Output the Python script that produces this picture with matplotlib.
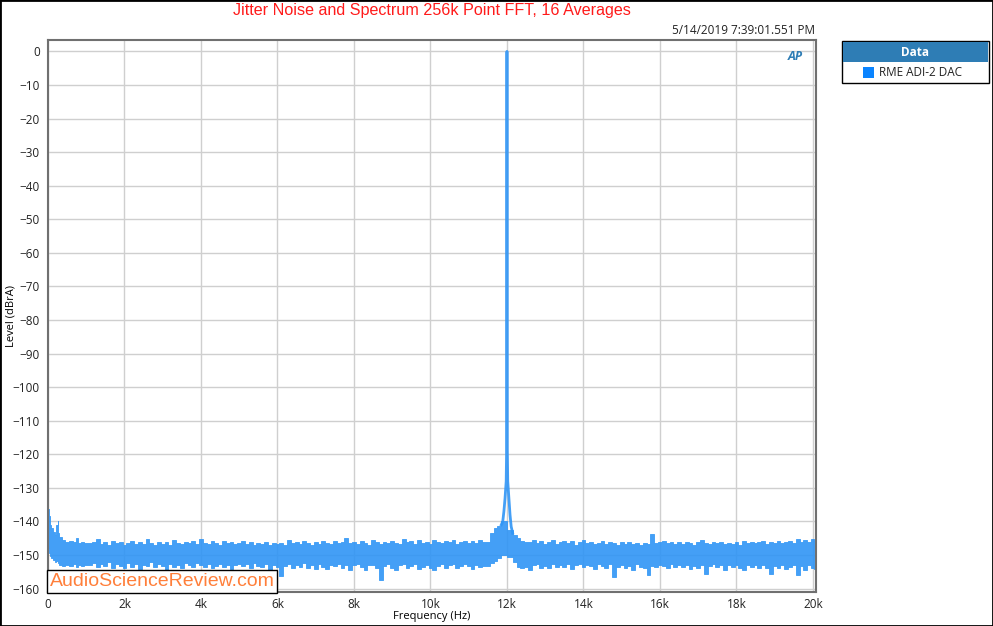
import numpy as np
import matplotlib.pyplot as plt
from matplotlib.patches import Rectangle

plt.rcParams['font.family'] = ['Open Sans', 'DejaVu Sans']

# noise band envelope (Hz, dBrA)
freq_lo = [0, 20, 40, 60, 100, 150, 200, 240, 260, 280, 320, 400, 500, 600, 700, 750, 800, 900, 1000]
upper_lo = [-136.0, -136.3, -138.5, -141.0, -142.0, -143.0, -144.0, -141.0, -140.0, -143.5, -144.5,
            -145.5, -146.0, -145.8, -146.2, -144.9, -146.3, -146.0, -146.4]
lower_lo = [-147.5, -148.0, -149.5, -150.2, -151.0, -151.5, -152.0, -151.8, -152.3, -152.5, -153.0,
            -153.2, -153.0, -153.4, -152.8, -153.5, -153.0, -153.3, -152.9]

freq_mid = list(range(1100, 11500, 100))
upper_mid = [-146.4, -146.0, -145.3, -146.7, -146.2, -146.9, -145.8, -146.5, -146.1, -147.0,
             -146.3, -145.7, -146.6, -146.0, -146.8, -145.2, -146.5, -146.9, -146.1, -146.6,
             -146.2, -147.0, -145.6, -146.4, -146.8, -146.0, -146.5, -145.9, -146.7, -145.1,
             -146.4, -146.8, -145.7, -146.3, -146.9, -145.9, -146.5, -146.1, -146.8, -146.3,
             -145.7, -146.6, -146.2, -147.0, -146.4, -146.8, -146.0, -147.1, -146.5, -146.8,
             -146.3, -146.9, -145.4, -146.5, -146.1, -146.8, -145.7, -146.4, -146.9, -146.2,
             -146.7, -145.8, -146.3, -146.6, -145.9, -146.5, -146.0, -144.9, -146.4, -146.1,
             -146.6, -145.7, -146.3, -146.9, -145.5, -146.2, -146.7, -146.0, -146.5, -145.8,
             -146.4, -146.8, -145.3, -146.2, -145.9, -146.6, -145.6, -146.3, -146.0, -146.7,
             -145.4, -146.1, -146.5, -145.7, -146.2, -145.5, -146.6, -146.0, -145.8, -146.4,
             -145.9, -146.3, -145.5, -146.0]
lower_mid = [-153.0, -152.3, -153.6, -152.8, -153.3, -152.1, -153.8, -152.6, -153.2, -153.9,
             -152.4, -153.5, -152.7, -154.1, -152.9, -153.4, -152.2, -153.7, -152.8, -153.3,
             -154.3, -152.6, -153.5, -152.9, -153.8, -152.4, -153.1, -153.7, -152.5, -152.9,
             -153.6, -152.7, -154.0, -153.2, -152.6, -153.5, -152.9, -154.2, -153.0, -152.7,
             -153.4, -152.8, -153.9, -152.5, -153.2, -153.7, -152.8, -154.5, -153.1, -153.6,
             -156.3, -153.3, -152.7, -153.9, -152.9, -153.5, -152.4, -153.8, -153.0, -154.1,
             -152.8, -153.6, -154.2, -152.9, -153.4, -152.6, -153.9, -153.1, -154.4, -153.0,
             -152.8, -153.7, -154.3, -153.1, -152.9, -154.0, -157.4, -153.3, -152.7, -153.8,
             -154.3, -153.0, -152.6, -153.9, -153.2, -152.8, -154.1, -153.5, -152.9, -153.9,
             -154.5, -153.2, -152.6, -153.8, -153.0, -152.8, -154.0, -153.4, -152.7, -153.3,
             -154.2, -153.1, -153.7, -153.4]

freq_pk = [11500, 11600, 11700, 11800, 11900, 12100, 12200, 12300, 12400, 12500]
upper_pk = [-146.0, -143.5, -141.8, -141.2, -140.0, -142.5, -144.0, -145.0, -145.8, -146.2]
lower_pk = [-153.2, -152.5, -151.8, -151.0, -150.0, -150.5, -152.0, -153.6, -154.0, -153.5]

freq_hi = list(range(12600, 20001, 100)) + [20060]
upper_hi = [-146.0, -145.6, -146.4, -145.8, -146.7, -146.1, -145.5, -146.6, -146.2, -145.9,
            -146.5, -145.8, -146.9, -146.2, -145.6, -146.4, -146.0, -146.7, -146.3, -145.9,
            -146.7, -146.1, -146.5, -146.9, -146.2, -146.6, -146.0, -146.8, -146.4, -146.9,
            -146.3, -146.7, -143.8, -146.5, -146.1, -145.7, -146.4, -146.0, -146.6, -146.2,
            -146.8, -146.0, -146.5, -146.9, -146.2, -145.4, -146.3, -146.7, -146.1, -146.5,
            -146.0, -146.8, -146.3, -146.6, -146.1, -146.9, -145.8, -146.4, -146.0, -146.5,
            -146.2, -145.9, -146.6, -146.1, -146.5, -145.7, -146.3, -146.0, -145.8, -146.4,
            -145.3, -146.0, -145.6, -146.2, -145.3, -145.8]
lower_hi = [-154.3, -153.1, -152.7, -153.8, -153.2, -154.0, -152.6, -153.5, -152.9, -153.7,
            -152.8, -154.2, -153.1, -152.7, -153.6, -152.9, -153.4, -154.1, -152.8, -153.3,
            -153.9, -152.7, -156.4, -153.5, -152.9, -153.8, -153.2, -154.3, -152.8, -153.6,
            -154.0, -155.8, -153.2, -153.7, -152.9, -153.4, -154.0, -152.7, -153.6, -153.0,
            -153.5, -152.9, -154.1, -153.2, -153.8, -153.0, -155.6, -153.4, -152.8, -153.7,
            -152.9, -154.3, -153.1, -153.6, -153.0, -153.9, -154.4, -152.9, -153.5, -153.1,
            -153.8, -152.9, -154.0, -155.7, -153.3, -153.9, -152.9, -154.2, -153.5, -153.0,
            -155.9, -153.4, -154.3, -153.1, -153.8, -154.2]

# 12 kHz test tone
tone_f = [11850, 11890, 11920, 11950, 11980, 11995, 12000, 12005, 12020, 12050, 12080, 12110, 12150]
tone_db = [-141.0, -140.0, -137.0, -133.0, -128.0, -115.0, 0.0, -115.0, -128.0, -133.0, -138.0, -141.5, -143.5]

freq = np.array(freq_lo + freq_mid + freq_pk + freq_hi)
upper = np.array(upper_lo + upper_mid + upper_pk + upper_hi)
lower = np.array(lower_lo + lower_mid + lower_pk + lower_hi)

trace = '#2f95f5'

fig = plt.figure(figsize=(9.93, 6.26), dpi=100)
ax = fig.add_axes([48 / 993, 1 - 592 / 626, 768 / 993, 552 / 626])

ax.fill_between(freq, lower, upper, step='mid', color=trace, alpha=0.9, lw=0.6, zorder=2)
ax.plot(tone_f, tone_db, color=trace, lw=2.0, alpha=0.9, zorder=3)

ax.set_xlim(0, 20080)
ax.set_ylim(-161, 3.4)
ax.set_xticks(range(0, 20001, 2000))
ax.set_xticklabels(['0'] + [f'{k}k' for k in range(2, 21, 2)])
ax.set_yticks(range(-160, 1, 10))
ax.grid(color='#cfcfcf', lw=1)
ax.set_axisbelow(True)
ax.tick_params(axis='x', length=0, labelsize=8.5, colors='#222222', pad=4)
ax.tick_params(axis='y', length=0, labelsize=8.5, colors='#222222', pad=6)
for s in ax.spines.values():
    s.set_color('#707070')
    s.set_linewidth(1.5)

fig.text(432 / 993, 1 - 617 / 626, 'Frequency (Hz)', ha='center', va='center', fontsize=8)
fig.text(11 / 993, 1 - 316 / 626, 'Level (dBrA)', ha='center', va='center', fontsize=8,
         rotation=90)

ax.text(0.002, 0.003, 'AudioScienceReview.com', transform=ax.transAxes, fontsize=14,
        family='Liberation Sans', color='#ff7f3a', va='bottom', ha='left', zorder=5,
        bbox=dict(boxstyle='square,pad=0.15', fc='white', ec='black', lw=1))

fig.text(432 / 993, 1 - 11 / 626, 'Jitter Noise and Spectrum 256k Point FFT, 16 Averages',
         ha='center', va='center', color='#ff1a1a', fontsize=11.6, family='Liberation Sans')
fig.text(815 / 993, 1 - 30 / 626, '5/14/2019 7:39:01.551 PM', ha='right', va='center',
         fontsize=8.5, color='#222222')
fig.text(795 / 993, 1 - 57 / 626, 'AP', ha='center', va='center', fontsize=9,
         style='italic', weight='bold', color='#2e7db5')

# legend panel
fig.patches.append(Rectangle((842 / 993, 1 - 83 / 626), 147 / 993, 42 / 626, transform=fig.transFigure,
                             fc='white', ec='black', lw=1))
fig.patches.append(Rectangle((843 / 993, 1 - 62 / 626), 145 / 993, 20 / 626, transform=fig.transFigure,
                             fc='#2e7db5', ec='none'))
fig.text(915 / 993, 1 - 52 / 626, 'Data', ha='center', va='center', color='white',
         fontsize=8.5, weight='bold')
fig.patches.append(Rectangle((863 / 993, 1 - 78 / 626), 11 / 993, 11 / 626, transform=fig.transFigure,
                             fc='#0a84ff', ec='none'))
fig.text(879 / 993, 1 - 72.5 / 626, 'RME ADI-2 DAC', ha='left', va='center', fontsize=8.5,
         color='#222222')

# outer border
fig.patches.append(Rectangle((0, 0), 1, 1, transform=fig.transFigure, fill=False, ec='black', lw=2))

fig.savefig('out.png', dpi=100)
